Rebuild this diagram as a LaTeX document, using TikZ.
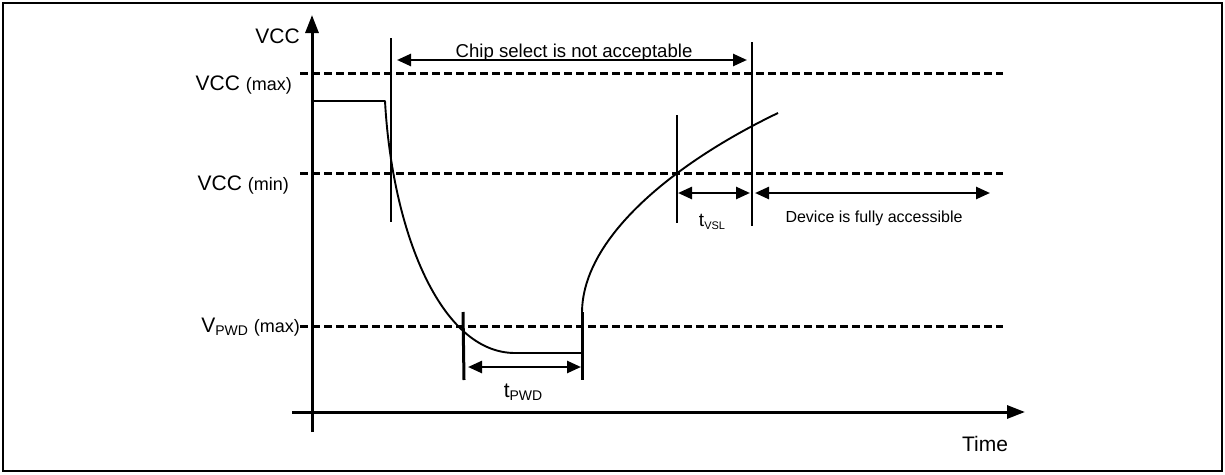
\documentclass[tikz,border=0pt]{standalone}
\usepackage{fontspec}
\setmainfont{Liberation Sans}
\usetikzlibrary{arrows.meta,positioning}
\tikzset{
  axis/.style={line width=3pt,-{Triangle[length=18pt,width=13pt]}},
  level/.style={line width=3pt,dash pattern=on 8pt off 4pt},
  signal/.style={line width=1.9pt,line join=round},
  marker/.style={line width=2pt},
  boldmarker/.style={line width=3pt},
  span/.style={line width=2.5pt,{Triangle[length=14pt,width=12pt]}-{Triangle[length=14pt,width=12pt]}},
  biglabel/.style={font=\fontsize{21}{25}\selectfont,inner sep=0pt},
  smalllabel/.style={font=\fontsize{16}{19}\selectfont,inner sep=0pt}
}
\newcommand{\sublabel}[2][14]{\raisebox{-0.3ex}{\fontsize{#1}{#1}\selectfont #2}}
\newcommand{\paren}[1]{{\fontsize{18}{21}\selectfont(#1)}}

\begin{document}
\begin{tikzpicture}[x=1pt,y=-1pt]
  \useasboundingbox (0,0) rectangle (1225,474);
  \draw[line width=2.4pt] (3,3) rectangle (1222,471);

  \coordinate (origin) at (312,412);
  \coordinate (ytop) at (312,15);
  \coordinate (ybot) at (312,432);
  \coordinate (xleft) at (292,412);
  \coordinate (xright) at (1025,412);
  \draw[axis] (ybot) -- (ytop);
  \draw[axis] (xleft) -- (xright);

  \coordinate (maxL) at (300,73);  \coordinate (maxR) at (1003,73);
  \coordinate (minL) at (300,173); \coordinate (minR) at (1003,173);
  \coordinate (pwdL) at (300,326); \coordinate (pwdR) at (1003,326);
  \draw[level] (maxL) -- (maxR);
  \draw[level] (minL) -- (minR);
  \draw[level] (pwdL) -- (pwdR);

  \node[biglabel,anchor=base east] (vcc) at (300,43) {VCC};
  \node[biglabel,anchor=base east] (vccmax) at (292,90) {VCC \paren{max}};
  \node[biglabel,anchor=base east] (vccmin) at (289,190) {VCC \paren{min}};
  \node[biglabel,anchor=base east] (vpwdmax) at (300,332) {V\sublabel{PWD} \paren{max}};
  \node[biglabel,anchor=base] (time) at (985,451) {Time};

  \draw[signal] (origin |- 0,101) -- (385,101)
    .. controls (392,230) and (440,353) .. (515,353) -- (582,353) -- (582,313)
    .. controls (582,235) and (680,160) .. (778,113);

  \coordinate (csTop) at (391,38);   \coordinate (csBot) at (391,222);
  \coordinate (okTop) at (752,42);   \coordinate (okBot) at (752,226);
  \coordinate (vslTop) at (677,115); \coordinate (vslBot) at (677,223);
  \coordinate (offTop) at (463,312); \coordinate (offBot) at (464,380);
  \coordinate (onTop) at (582,312);  \coordinate (onBot) at (582,380);
  \draw[marker] (csTop) -- (csBot);
  \draw[marker] (okTop) -- (okBot);
  \draw[marker] (vslTop) -- (vslBot);
  \draw[boldmarker] (offTop) -- (offBot);
  \draw[boldmarker] (onTop) -- (onBot);

  \coordinate (csA) at (391,60);  \coordinate (csB) at (752,60);
  \draw[span,shorten <=6pt,shorten >=5pt] (csA) -- (csB);
  \node[anchor=base,inner sep=0pt,font=\fontsize{18.6}{22}\selectfont] (chip) at (574,57) {Chip select is not acceptable};

  \coordinate (pwdA) at (464,367); \coordinate (pwdB) at (582,367);
  \draw[span,shorten <=4pt,shorten >=1pt] (pwdA) -- (pwdB);
  \node[biglabel,anchor=base] (tpwd) at (523,397) {t\sublabel{PWD}};

  \coordinate (vslA) at (677,193); \coordinate (vslB) at (752,193);
  \draw[span,shorten <=1pt,shorten >=2pt] (vslA) -- (vslB);
  \node[biglabel,anchor=base,font=\fontsize{19}{22}\selectfont] (tvsl) at (712,226) {t\sublabel[11]{VSL}};

  \coordinate (devA) at (752,193); \coordinate (devB) at (990,193);
  \draw[span,shorten <=3pt] (devA) -- (devB);
  \node[smalllabel,anchor=base] (device) at (874,222) {Device is fully accessible};
\end{tikzpicture}
\end{document}
